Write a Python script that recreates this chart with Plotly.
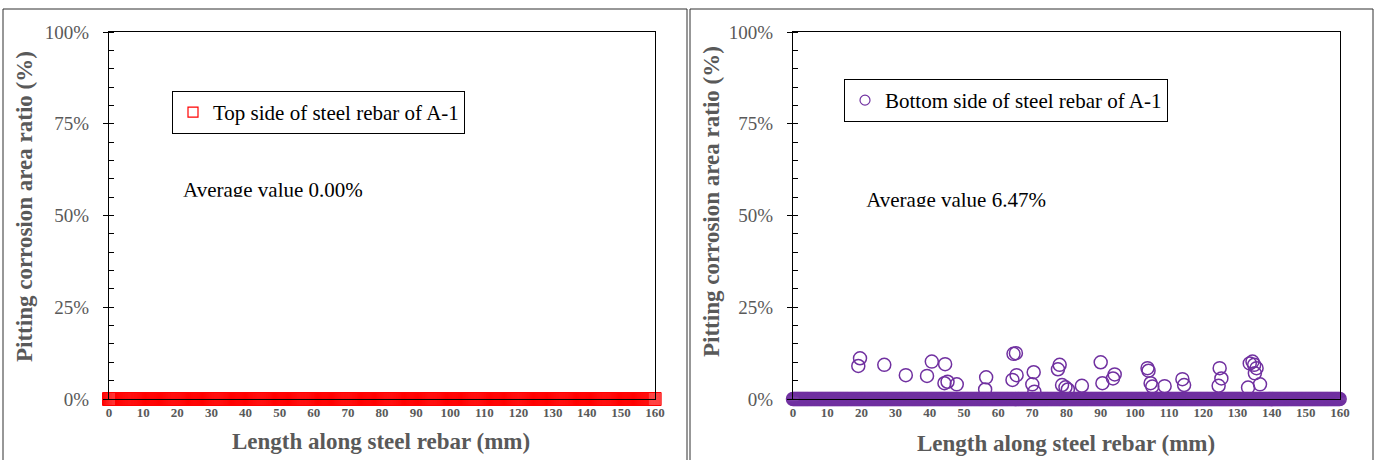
import numpy as np
import plotly.graph_objects as go

# ---------------- data ----------------
# measurement grid along the rebar (mm), zero-corrosion readings
grid_positions_mm = np.arange(0, 160.001, 0.3)
top_ratio = [0.0] * len(grid_positions_mm)          # top side: all 0 %
bottom_zero_ratio = [0.0] * len(grid_positions_mm)  # bottom side baseline readings

# bottom side: pitted locations (mm) and pitting area ratio (%)
pit_x = [19.6, 19.1, 26.7, 33.0, 39.2, 40.6, 44.5, 44.3, 45.2, 47.9,
         56.5, 56.2, 64.2, 65.4, 64.5, 65.2, 70.4, 70.0, 70.6, 78.0,
         77.5, 78.7, 79.7, 80.4, 84.5, 90.0, 90.5, 93.6, 94.1, 103.7,
         104.0, 104.6, 105.1, 108.7, 113.9, 114.4, 124.8, 125.3, 124.5,
         133.6, 134.4, 134.9, 135.6, 135.1, 133.1, 136.6]
pit_y = [11.1, 9.0, 9.3, 6.5, 6.3, 10.2, 9.5, 4.3, 4.7, 4.0,
         5.9, 2.6, 5.2, 6.5, 12.3, 12.5, 7.3, 4.0, 2.0, 9.3,
         8.1, 3.8, 3.2, 2.6, 3.6, 10.0, 4.3, 5.6, 6.7, 8.4,
         7.7, 4.3, 3.4, 3.5, 5.4, 3.8, 8.4, 5.6, 3.6,
         9.7, 10.2, 9.3, 8.4, 7.0, 3.1, 4.0]

x_ticks = list(range(0, 161, 10))
y_ticks = [0, 25, 50, 75, 100]
y_tick_labels = ["0%", "25%", "50%", "75%", "100%"]

top_name = "Top side of steel rebar of A-1"
bottom_name = "Bottom side of steel rebar of A-1"
top_avg_text = "Average value 0.00%"
bottom_avg_text = "Average value 6.47%"
x_title = "Length along steel rebar (mm)"
y_title = "Pitting corrosion area ratio (%)"

# ---------------- styling ----------------
W, H = 1376, 460
SERIF = "Liberation Serif, Times New Roman, serif"
GRAY = "#595959"
RED = "#FF0000"
PURPLE = "#7030A0"

def px_x(p):
    return p / W

def px_y(p):
    return 1 - p / H

fig = go.Figure()

# left panel
fig.add_trace(go.Scatter(x=grid_positions_mm, y=top_ratio, mode="markers",
                         marker=dict(symbol="square-open", size=13, color=RED, line=dict(width=1)),
                         xaxis="x", yaxis="y", showlegend=False, cliponaxis=False,
                         hoverinfo="skip"))
fig.add_trace(go.Scatter(x=[None], y=[None], mode="markers", name=top_name,
                         marker=dict(symbol="square-open", size=10, color=RED, line=dict(width=1.2)),
                         xaxis="x", yaxis="y", legend="legend"))
fig.add_trace(go.Scatter(x=[21.7], y=[56.5], mode="text", text=[top_avg_text],
                         textposition="middle right",
                         textfont=dict(family=SERIF, size=21, color="black"),
                         xaxis="x", yaxis="y", showlegend=False, hoverinfo="skip"))

# right panel
fig.add_trace(go.Scatter(x=grid_positions_mm, y=bottom_zero_ratio, mode="markers",
                         marker=dict(symbol="circle-open", size=13, color=PURPLE, line=dict(width=1.5)),
                         xaxis="x2", yaxis="y2", showlegend=False, cliponaxis=False,
                         hoverinfo="skip"))
fig.add_trace(go.Scatter(x=pit_x, y=pit_y, mode="markers",
                         marker=dict(symbol="circle-open", size=13, color=PURPLE, line=dict(width=1.5)),
                         xaxis="x2", yaxis="y2", showlegend=False, cliponaxis=False))
fig.add_trace(go.Scatter(x=[None], y=[None], mode="markers", name=bottom_name,
                         marker=dict(symbol="circle-open", size=10, color=PURPLE, line=dict(width=1.2)),
                         xaxis="x2", yaxis="y2", legend="legend2"))
fig.add_trace(go.Scatter(x=[21.4], y=[53.8], mode="text", text=[bottom_avg_text],
                         textposition="middle right",
                         textfont=dict(family=SERIF, size=21, color="black"),
                         xaxis="x2", yaxis="y2", showlegend=False, hoverinfo="skip"))

y_dom = [px_y(399), px_y(32)]

def xaxis_cfg(d0, d1, anchor):
    return dict(domain=[px_x(d0), px_x(d1)], range=[0, 160], anchor=anchor,
                tickmode="array", tickvals=x_ticks, automargin=False,
                tickfont=dict(family=SERIF, size=13, color=GRAY, weight="bold"),
                ticks="", showline=True, linecolor="black", linewidth=1, mirror=True,
                showgrid=False, zeroline=False, ticklabelstandoff=1)

def yaxis_cfg(anchor):
    return dict(domain=y_dom, range=[0, 100], anchor=anchor, automargin=False,
                tickmode="array", tickvals=y_ticks, ticktext=y_tick_labels,
                tickfont=dict(family=SERIF, size=19, color=GRAY),
                ticks="outside", ticklen=5, tickcolor="black", tickwidth=1,
                minor=dict(dtick=5, ticks="inside", ticklen=5, tickcolor="black", tickwidth=1),
                showline=True, linecolor="black", linewidth=1, mirror=True,
                showgrid=False, zeroline=False, ticklabelstandoff=10)

legend_common = dict(bgcolor="white", bordercolor="black", borderwidth=1,
                     font=dict(family=SERIF, size=21, color="black"),
                     xanchor="left", yanchor="middle", itemsizing="trace")

title_font = dict(family=SERIF, size=23, color=GRAY, weight="bold")
annotations = [
    dict(text=x_title, x=px_x(381), y=px_y(441), xref="paper", yref="paper",
         xanchor="center", yanchor="middle", showarrow=False, font=title_font),
    dict(text=x_title, x=px_x(1066), y=px_y(443), xref="paper", yref="paper",
         xanchor="center", yanchor="middle", showarrow=False, font=title_font),
    dict(text=y_title, x=px_x(25), y=px_y(207), xref="paper", yref="paper", textangle=-90,
         xanchor="center", yanchor="middle", showarrow=False, font=title_font),
    dict(text=y_title, x=px_x(711), y=px_y(202), xref="paper", yref="paper", textangle=-90,
         xanchor="center", yanchor="middle", showarrow=False, font=title_font),
]

shapes = [
    # outer panel frames
    dict(type="rect", xref="paper", yref="paper", x0=px_x(3), x1=px_x(687),
         y0=-0.05, y1=px_y(9), line=dict(color="#303030", width=1), layer="below"),
    dict(type="rect", xref="paper", yref="paper", x0=px_x(690), x1=px_x(1373),
         y0=-0.05, y1=px_y(9), line=dict(color="#303030", width=1), layer="below"),
    # the average-value labels are cut off at their lower part in the original
    dict(type="rect", xref="x", yref="y", x0=19, x1=92, y0=49.5, y1=55.1,
         fillcolor="white", line=dict(width=0), layer="above"),
    dict(type="rect", xref="x2", yref="y2", x0=19, x1=92, y0=46.5, y1=52.4,
         fillcolor="white", line=dict(width=0), layer="above"),
]

fig.update_layout(
    template="none",
    width=W, height=H, margin=dict(l=0, r=0, t=0, b=0, autoexpand=False),
    paper_bgcolor="white", plot_bgcolor="white",
    xaxis=xaxis_cfg(109, 655, "y"),
    yaxis=yaxis_cfg("x"),
    xaxis2=xaxis_cfg(793, 1340, "y2"),
    yaxis2=yaxis_cfg("x2"),
    legend=dict(x=px_x(172), y=px_y(112.5), **legend_common),
    legend2=dict(x=px_x(844), y=px_y(100.5), **legend_common),
    annotations=annotations,
    shapes=shapes,
    showlegend=True,
)

fig.write_html(
    "out.html",
    config={"displayModeBar": False},
    post_script="document.body.style.margin='0';document.body.style.overflow='hidden';",
)
